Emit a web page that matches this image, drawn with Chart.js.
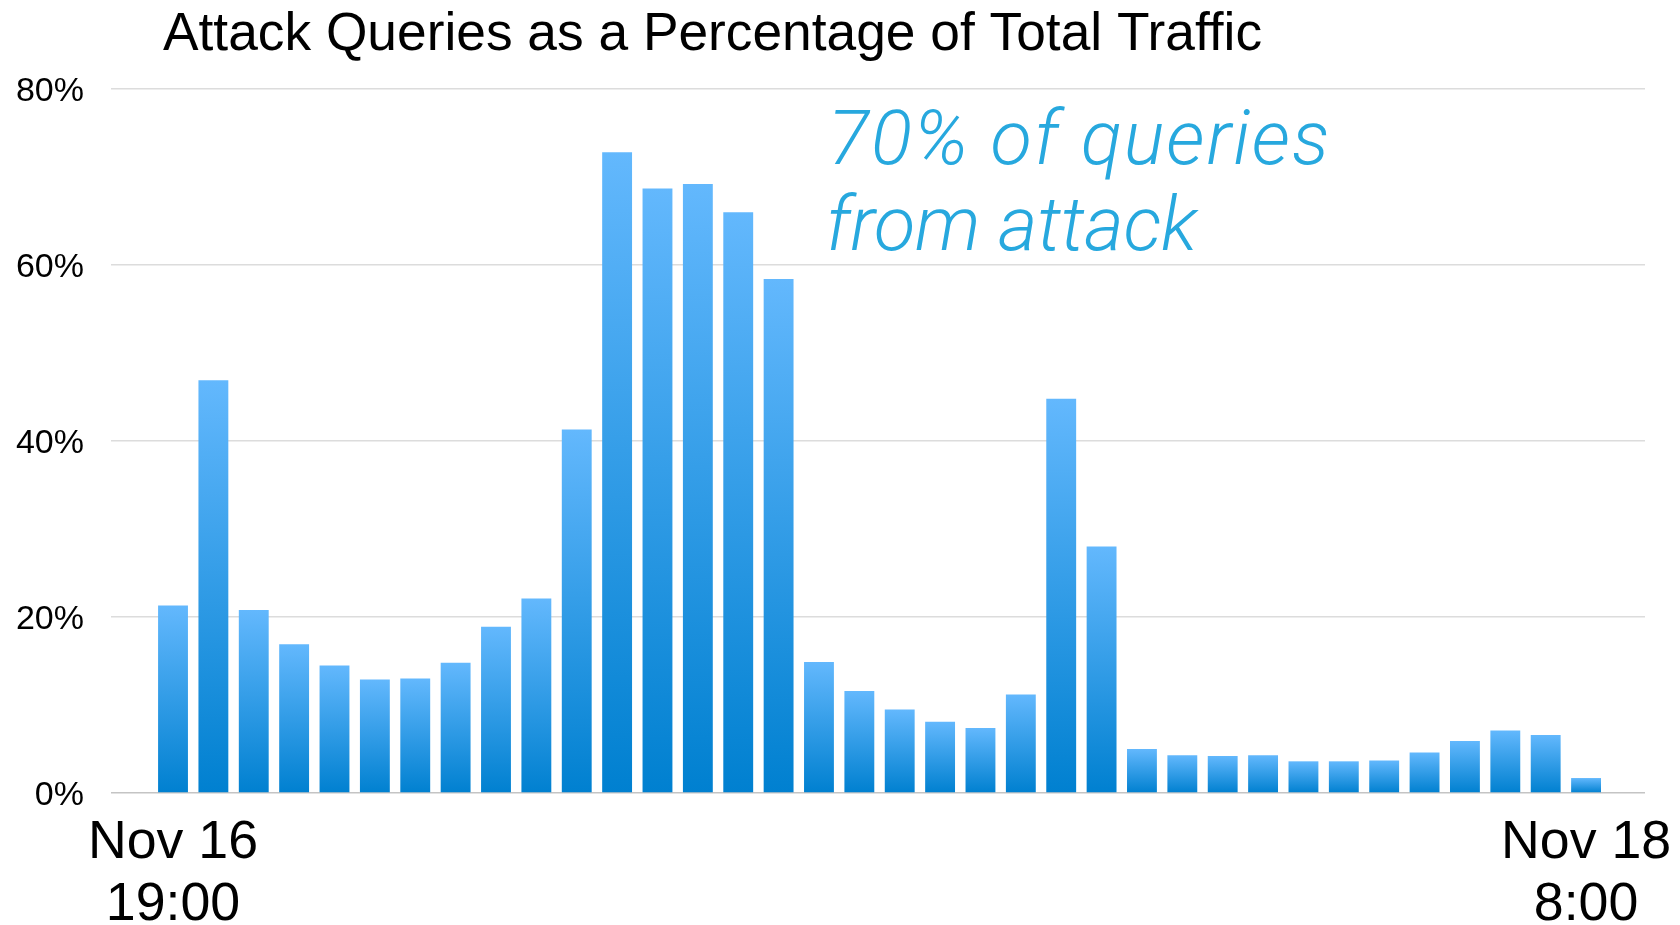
<!DOCTYPE html>
<html>
<head>
<meta charset="utf-8">
<script src="https://cdn.jsdelivr.net/npm/chart.js@4/dist/chart.umd.min.js"></script>
<style>
  html, body { margin: 0; padding: 0; background: #fff; }
  #wrap { position: relative; width: 1680px; height: 925px; }
</style>
</head>
<body>
<div id="wrap"><canvas id="chart"></canvas></div>
<script>
const title = 'Attack Queries as a Percentage of Total Traffic';
const note = ['70% of queries', 'from attack'];

// share of attack queries per interval, Nov 16 19:00 .. Nov 18 8:00
const values = [
  21.3, 46.9, 20.8, 16.9, 14.5, 12.9, 13.0, 14.8, 18.9, 22.1,
  41.3, 72.8, 68.7, 69.2, 66.0, 58.4, 14.9, 11.6, 9.5, 8.1,
  7.4, 11.2, 44.8, 28.0, 5.0, 4.3, 4.2, 4.3, 3.6, 3.6,
  3.7, 4.6, 5.9, 7.1, 6.6, 1.7,
];
const yTicks = [0, 20, 40, 60, 80];
const firstTick = ['Nov 16', '19:00'];
const lastTick = ['Nov 18', '8:00'];

const points = values.map((v, i) => ({ x: i, y: v }));
const lastIdx = values.length - 1;

function barFill(ctx) {
  const c = ctx.chart;
  const y = c.scales.y;
  if (!y || !ctx.parsed) return '#3a9ce6';
  const top = y.getPixelForValue(ctx.parsed.y);
  const base = y.getPixelForValue(0);
  if (!isFinite(top) || !isFinite(base)) return '#3a9ce6';
  const g = c.ctx.createLinearGradient(0, top, 0, base);
  g.addColorStop(0, '#63b8fd');
  g.addColorStop(1, '#0080d0');
  return g;
}

const texts = {
  id: 'texts',
  afterDraw(chart) {
    const ctx = chart.ctx;
    ctx.save();
    ctx.textBaseline = 'alphabetic';
    ctx.textAlign = 'left';
    ctx.fillStyle = '#000';
    ctx.font = '53.3px "Liberation Sans", Arial, sans-serif';
    ctx.fillText(title, 163, 50);
    ctx.fillStyle = '#27a8de';
    ctx.font = 'italic 300 76px Roboto, "Liberation Sans", sans-serif';
    ctx.letterSpacing = '2px';
    ctx.fillText(note[0], 828, 164);
    ctx.letterSpacing = '-0.3px';
    ctx.fillText(note[1], 826, 250);
    ctx.restore();
  },
};

new Chart(document.getElementById('chart'), {
  type: 'bar',
  data: {
    datasets: [{
      data: points,
      backgroundColor: barFill,
      borderWidth: 0,
      barPercentage: 0.74,
      categoryPercentage: 1,
    }],
  },
  plugins: [texts],
  options: {
    responsive: true,
    maintainAspectRatio: false,
    animation: false,
    layout: { padding: { left: 16, right: 35, top: 89, bottom: 0 } },
    plugins: { legend: { display: false }, tooltip: { enabled: false } },
    scales: {
      x: {
        type: 'linear',
        offset: false,
        min: -1.536,
        max: 36.46,
        grid: { display: false, drawTicks: false },
        border: { display: false },
        afterBuildTicks: (s) => { s.ticks = [{ value: 0 }, { value: lastIdx }]; },
        afterFit: (s) => { s.height = 132; s.paddingLeft = 0; s.paddingRight = 0; },
        ticks: {
          autoSkip: false,
          maxRotation: 0,
          padding: 19,
          color: '#000',
          font: { family: '"Liberation Sans", Arial, sans-serif', size: 53.7, lineHeight: 1.155 },
          callback: (v) => (v === 0 ? firstTick : v === lastIdx ? lastTick : ''),
        },
      },
      y: {
        min: 0,
        max: 80,
        afterBuildTicks: (s) => { s.ticks = yTicks.map((v) => ({ value: v })); },
        afterFit: (s) => { s.width = 95; s.paddingTop = 0; s.paddingBottom = 0; },
        grid: {
          drawTicks: false,
          color: (c) => (c.tick && c.tick.value === 0 ? '#c4c4c4' : '#dcdcdc'),
          lineWidth: 1.5,
        },
        border: { display: false },
        ticks: {
          padding: 27,
          labelOffset: 3,
          color: '#000',
          font: { family: '"Liberation Sans", Arial, sans-serif', size: 34 },
          callback: (v) => v + '%',
        },
      },
    },
  },
});
</script>
</body>
</html>
